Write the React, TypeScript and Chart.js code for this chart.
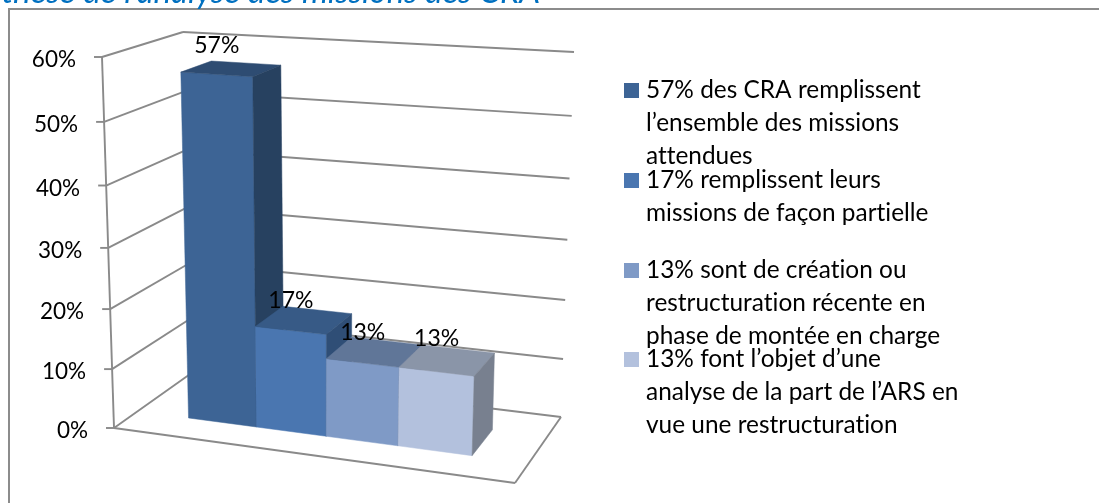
import React, { useEffect, useRef } from "react";
import { Chart, registerables } from "chart.js";

Chart.register(...registerables);

const titleText = "Synthèse de l’analyse des missions des CRA";
const categories = ["Complet", "Partiel", "Récent", "Analyse"];
const shares = [0.57, 0.17, 0.13, 0.13];
const legendLines = [
  ["57% des CRA remplissent", "l’ensemble des missions", "attendues"],
  ["17% remplissent leurs", "missions de façon partielle"],
  ["13% sont de création ou", "restructuration récente en", "phase de montée en charge"],
  ["13% font l’objet d’une", "analyse de la part de l’ARS en", "vue une restructuration"],
];
const frontColors = ["#3D6495", "#4A76B0", "#7F9AC6", "#B3C1DD"];
const topColors = ["#2E4C72", "#375A86", "#607698", "#8A95A8"];
const sideColors = ["#274160", "#2F4E76", "#50678A", "#78808F"];

const FONT = "Lato, Carlito, Calibri, sans-serif";
const GRID = "#8A8A8A";

// Projection of the flat chart onto the Excel-like 3D box
type P = [number, number];
const floorC: P[] = [[114, 428], [515, 483], [561, 417], [193, 372]];
const roofC: P[] = [[102, 57], [529, 85], [574, 52], [183, 32]];
const bilerp = (c: P[], u: number, d: number): P => {
  const f = (i: number) =>
    c[0][i] * (1 - u) * (1 - d) + c[1][i] * u * (1 - d) + c[2][i] * u * d + c[3][i] * (1 - u) * d;
  return [f(0), f(1)];
};
const persp = (s: number) => s / (s + 1.06 * (1 - s));
const project = (u: number, d: number, t: number): P => {
  const a = bilerp(floorC, u, d);
  const b = bilerp(roofC, u, d);
  const h = persp(t);
  return [a[0] + (b[0] - a[0]) * h, a[1] + (b[1] - a[1]) * h];
};
const U0 = 0.13;
const U1 = 0.855;
const D0 = 0.3;
const D1 = 0.7;

const poly = (ctx: CanvasRenderingContext2D, pts: P[], color: string) => {
  ctx.beginPath();
  pts.forEach((p, i) => (i ? ctx.lineTo(p[0], p[1]) : ctx.moveTo(p[0], p[1])));
  ctx.closePath();
  ctx.fillStyle = color;
  ctx.fill();
  ctx.strokeStyle = color;
  ctx.lineWidth = 0.5;
  ctx.stroke();
};
const seg = (ctx: CanvasRenderingContext2D, a: P, b: P, w = 1.9) => {
  ctx.beginPath();
  ctx.moveTo(a[0], a[1]);
  ctx.lineTo(b[0], b[1]);
  ctx.strokeStyle = GRID;
  ctx.lineWidth = w;
  ctx.stroke();
};

const box3d = {
  id: "box3d",
  beforeDatasetsDraw(chart: any) {
    const ctx: CanvasRenderingContext2D = chart.ctx;
    const yS = chart.scales.y;
    const area = chart.chartArea;
    ctx.save();
    (ctx as any).letterSpacing = "0.01px";
    // frame
    ctx.strokeStyle = "#8C8C8C";
    ctx.lineWidth = 2;
    ctx.beginPath();
    ctx.moveTo(9, 503);
    ctx.lineTo(9, 9);
    ctx.lineTo(1099, 9);
    ctx.stroke();
    // title
    ctx.font = `italic 33px ${FONT}`;
    ctx.fillStyle = "#0070C0";
    ctx.textAlign = "right";
    ctx.textBaseline = "alphabetic";
    ctx.fillText(titleText, 540, 2.5);
    // walls and ticks
    yS.ticks.forEach((tick: any) => {
      const t = (area.bottom - yS.getPixelForValue(tick.value)) / (area.bottom - area.top);
      const fl = project(0, 0, t);
      const bl = project(0, 1, t);
      const br = project(1, 1, t);
      seg(ctx, fl, bl);
      seg(ctx, bl, br);
      seg(ctx, [fl[0] - 8, fl[1]], fl);
      ctx.font = `22.5px ${FONT}`;
      ctx.fillStyle = "#000";
      ctx.textAlign = "right";
      ctx.textBaseline = "alphabetic";
      ctx.fillText(`${Math.round(tick.value * 100)}%`, fl[0] - 26, fl[1] + 10);
    });
    seg(ctx, project(0, 0, 0), project(0, 0, 1));
    seg(ctx, project(0, 0, 0), project(1, 0, 0));
    seg(ctx, project(1, 0, 0), project(1, 1, 0));
    ctx.restore();
  },
  afterDatasetsDraw(chart: any) {
    const ctx: CanvasRenderingContext2D = chart.ctx;
    const area = chart.chartArea;
    const els = chart.getDatasetMeta(0).data;
    const toU = (px: number) => U0 + (U1 - U0) * persp((px - area.left) / (area.right - area.left));
    ctx.save();
    (ctx as any).letterSpacing = "0.01px";
    els.forEach((el: any, i: number) => {
      const p = el.getProps(["x", "y", "base", "width"], true);
      const u0 = toU(p.x - p.width / 2);
      const u1 = toU(p.x + p.width / 2);
      const t = (area.bottom - p.y) / (area.bottom - area.top);
      poly(ctx, [project(u0, D0, 0), project(u1, D0, 0), project(u1, D0, t), project(u0, D0, t)], frontColors[i]);
      poly(ctx, [project(u0, D0, t), project(u1, D0, t), project(u1, D1, t), project(u0, D1, t)], topColors[i]);
      poly(ctx, [project(u1, D0, 0), project(u1, D1, 0), project(u1, D1, t), project(u1, D0, t)], sideColors[i]);
    });
    // value labels
    const labelLift = [21, 23, 23, 26];
    els.forEach((el: any, i: number) => {
      const p = el.getProps(["x", "y", "width"], true);
      const u0 = toU(p.x - p.width / 2);
      const u1 = toU(p.x + p.width / 2);
      const t = (area.bottom - p.y) / (area.bottom - area.top);
      const c = project((u0 + u1) / 2, D0, t);
      ctx.font = `23px ${FONT}`;
      ctx.fillStyle = "#000";
      ctx.textAlign = "center";
      ctx.textBaseline = "alphabetic";
      ctx.fillText(`${Math.round(shares[i] * 100)}%`, c[0], c[1] - labelLift[i]);
    });
    // legend
    const swatchY = [83, 173, 263, 352];
    legendLines.forEach((lines, i) => {
      ctx.fillStyle = frontColors[i];
      ctx.fillRect(624, swatchY[i], 15, 15);
      ctx.fillStyle = "#000";
      ctx.textAlign = "left";
      ctx.textBaseline = "alphabetic";
      ctx.font = `24.4px ${FONT}`;
      lines.forEach((line, j) => ctx.fillText(line, 646, swatchY[i] + 15 + j * 33));
    });
    ctx.restore();
  },
};

export default function App() {
  const ref = useRef<HTMLCanvasElement>(null);
  useEffect(() => {
    const chart = new Chart(ref.current!, {
      type: "bar",
      data: {
        labels: categories,
        datasets: [
          {
            data: shares,
            backgroundColor: "rgba(0,0,0,0)",
            borderWidth: 0,
            barPercentage: 1,
            categoryPercentage: 1,
          },
        ],
      },
      options: {
        responsive: false,
        animation: false,
        layout: { padding: { left: 114, right: 1099 - 515, top: 57, bottom: 503 - 428 } },
        plugins: { legend: { display: false }, tooltip: { enabled: false }, title: { display: false } },
        scales: {
          x: { display: false },
          y: { display: false, min: 0, max: 0.6, ticks: { stepSize: 0.1 } },
        },
      },
      plugins: [box3d],
    } as any);
    return () => chart.destroy();
  }, []);
  return (
    <canvas
      ref={ref}
      width={1099}
      height={503}
      style={{ position: "absolute", left: 0, top: 0, display: "block" }}
    />
  );
}
